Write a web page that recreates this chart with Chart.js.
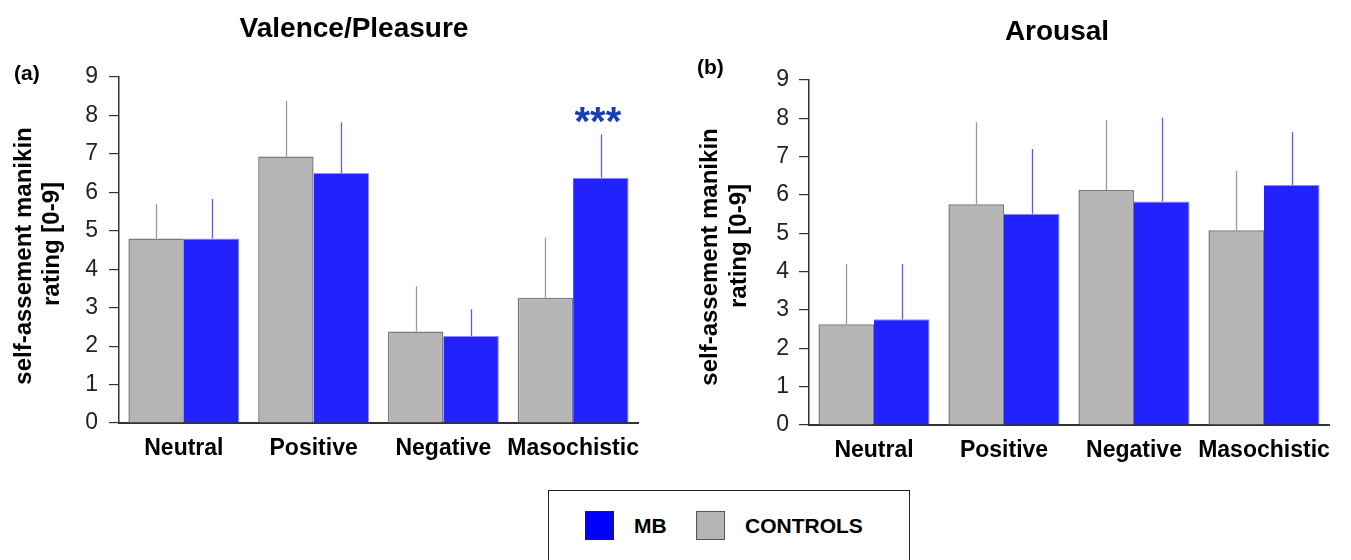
<!DOCTYPE html>
<html>
<head>
<meta charset="utf-8">
<script src="https://cdn.jsdelivr.net/npm/chart.js@4/dist/chart.umd.min.js"></script>
<style>
  html, body { margin: 0; padding: 0; background: #fff; }
  body { width: 1351px; height: 560px; position: relative; overflow: hidden; font-family: "Liberation Sans", Arial, sans-serif; }
  canvas { position: absolute; top: 0; }
  #legend { position: absolute; left: 548px; top: 490px; width: 362px; height: 90px; border: 1px solid #222; box-sizing: border-box; }
  .sw { position: absolute; top: 20px; width: 29px; height: 29px; box-sizing: border-box; border: 1px solid #333; }
  .lt { position: absolute; top: 20px; height: 29px; line-height: 29px; font-weight: bold; font-size: 21px; color: #000; }
</style>
</head>
<body>
<canvas id="c1" width="680" height="480" style="left:0px"></canvas>
<canvas id="c2" width="671" height="480" style="left:680px"></canvas>
<div id="legend"></div>
<script>
// ---- data ----
const categories = ['Neutral', 'Positive', 'Negative', 'Masochistic'];
const yTickValues = [0, 1, 2, 3, 4, 5, 6, 7, 8, 9];
const seriesNames = ['CONTROLS', 'MB'];
const yTitleLines = ['self-assement manikin', 'rating [0-9]'];

const valenceControls = [4.80, 6.93, 2.38, 3.26];
const valenceControlsErr = [0.90, 1.45, 1.18, 1.56];
const valenceMB = [4.80, 6.50, 2.26, 6.38];
const valenceMBErr = [1.03, 1.32, 0.70, 1.13];

const arousalControls = [2.63, 5.76, 6.13, 5.08];
const arousalControlsErr = [1.57, 2.14, 1.83, 1.55];
const arousalMB = [2.76, 5.51, 5.83, 6.26];
const arousalMBErr = [1.44, 1.69, 2.19, 1.38];

const valenceSignif = ['', '', '', '***'];

// ---- styles ----
const GRAY = '#b5b5b5', GRAY_BORDER = '#7a7a7a', GRAY_ERR = '#9a9a9a';
const BLUE = '#2222ff', BLUE_BORDER = '#8c8cff', BLUE_ERR = '#5a5aff';
const LEGEND_BLUE = '#0000ff';
const FONT = '"Liberation Sans", Arial, sans-serif';

const annotate = {
  id: 'annotate',
  afterDatasetsDraw(chart, args, o) {
    const ctx = chart.ctx;
    const ys = chart.scales.y;
    ctx.save();
    chart.data.datasets.forEach((ds, i) => {
      const meta = chart.getDatasetMeta(i);
      ctx.strokeStyle = ds.errColor;
      ctx.lineWidth = 1.3;
      meta.data.forEach((el, j) => {
        const top = ys.getPixelForValue(ds.data[j] + ds.err[j]);
        ctx.beginPath();
        ctx.moveTo(Math.round(el.x) + 0.5, el.y);
        ctx.lineTo(Math.round(el.x) + 0.5, top);
        ctx.stroke();
        if (ds.signif && ds.signif[j]) {
          ctx.fillStyle = '#1a3cb4';
          ctx.font = 'bold 40px ' + FONT;
          ctx.textAlign = 'center';
          ctx.textBaseline = 'alphabetic';
          ctx.fillText(ds.signif[j], el.x - 3, top + 1);
        }
      });
    });
    ctx.restore();
  },
  afterDraw(chart, args, o) {
    const ctx = chart.ctx;
    ctx.save();
    ctx.fillStyle = '#000';
    ctx.textAlign = 'center';
    ctx.textBaseline = 'alphabetic';
    ctx.font = 'bold 28px ' + FONT;
    ctx.fillText(o.title, o.titleX, o.titleY);
    ctx.font = 'bold 21px ' + FONT;
    ctx.textAlign = 'left';
    ctx.textBaseline = 'middle';
    ctx.fillText(o.panel, o.panelX, o.panelY);
    // y-axis title, two rotated lines
    ctx.font = 'bold 24px ' + FONT;
    ctx.textAlign = 'center';
    yTitleLines.forEach((line, k) => {
      ctx.save();
      ctx.translate(o.yTitle[k][0], o.yTitle[k][1]);
      ctx.rotate(-Math.PI / 2);
      ctx.fillText(line, 0, 0);
      ctx.restore();
    });
    ctx.restore();
  }
};

function makeChart(id, ctrl, ctrlErr, mb, mbErr, signif, cfg) {
  return new Chart(document.getElementById(id), {
    type: 'bar',
    data: {
      labels: categories,
      datasets: [
        { label: seriesNames[0], data: ctrl, err: ctrlErr, backgroundColor: GRAY, borderColor: GRAY_BORDER,
          borderWidth: { top: 1.5, left: 1.5, right: 1.5, bottom: 0 }, errColor: GRAY_ERR },
        { label: seriesNames[1], data: mb, err: mbErr, signif: signif, backgroundColor: BLUE, borderColor: BLUE_BORDER,
          borderWidth: { top: 1, left: 0, right: 1, bottom: 0 }, errColor: BLUE_ERR }
      ]
    },
    options: {
      responsive: false,
      animation: false,
      devicePixelRatio: 1,
      layout: { padding: cfg.padding },
      datasets: { bar: { categoryPercentage: 0.855, barPercentage: 1.0, grouped: true } },
      plugins: {
        legend: { display: false },
        tooltip: { enabled: false },
        title: { display: false },
        annotate: cfg.annot
      },
      scales: {
        x: {
          afterFit: s => { s.height = cfg.xHeight; },
          grid: { display: false, drawTicks: false },
          border: { display: true, color: '#333', width: 2 },
          ticks: { color: '#000', font: { family: FONT, size: 23, weight: 'bold' }, padding: cfg.xPad, maxRotation: 0, autoSkip: false }
        },
        y: {
          min: 0, max: 9,
          afterFit: s => { s.width = cfg.yWidth; },
          afterBuildTicks: s => { s.ticks = yTickValues.map(v => ({ value: v })); },
          grid: { drawOnChartArea: false, drawTicks: true, tickLength: 10, color: '#333', lineWidth: 1.2 },
          border: { display: true, color: '#333', width: 1.5 },
          ticks: { color: '#222', font: { family: FONT, size: 23 }, padding: cfg.yPad },
          title: { display: false }
        }
      }
    },
    plugins: [annotate]
  });
}

makeChart('c1', valenceControls, valenceControlsErr, valenceMB, valenceMBErr, valenceSignif, {
  padding: { top: 77, right: 42, bottom: 0, left: 0 },
  xHeight: 57, yWidth: 119, xPad: 12, yPad: 11,
  annot: { title: 'Valence/Pleasure', titleX: 354, titleY: 37, panel: '(a)', panelX: 14, panelY: 74,
           yTitle: [[24, 256], [52, 244]] }
});

makeChart('c2', arousalControls, arousalControlsErr, arousalMB, arousalMBErr, null, {
  padding: { top: 80, right: 22, bottom: 0, left: 0 },
  xHeight: 55, yWidth: 129, xPad: 12, yPad: 10,
  annot: { title: 'Arousal', titleX: 377, titleY: 40, panel: '(b)', panelX: 17, panelY: 68,
           yTitle: [[30, 257], [59, 246]] }
});

// ---- legend (HTML, from the series) ----
const legend = document.getElementById('legend');
const legendItems = [
  { name: seriesNames[1], color: LEGEND_BLUE, border: '#222', sw: 36, tx: 85 },
  { name: seriesNames[0], color: GRAY, border: '#555', sw: 147, tx: 196 }
];
legendItems.forEach(it => {
  const s = document.createElement('div');
  s.className = 'sw';
  s.style.left = it.sw + 'px';
  s.style.background = it.color;
  s.style.borderColor = it.border;
  legend.appendChild(s);
  const t = document.createElement('div');
  t.className = 'lt';
  t.style.left = it.tx + 'px';
  t.textContent = it.name;
  legend.appendChild(t);
});
</script>
</body>
</html>
